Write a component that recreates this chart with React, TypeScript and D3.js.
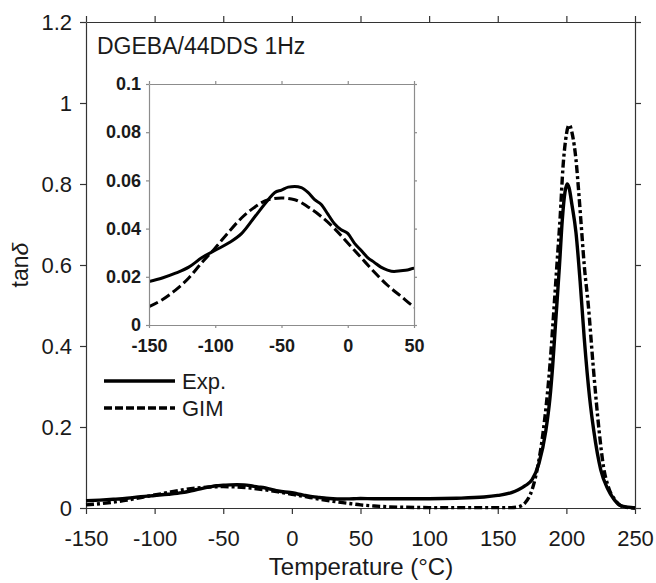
import React, { useRef, useEffect } from 'react';
import * as d3 from 'd3';

// tick values
const mainXTicks = [-150, -100, -50, 0, 50, 100, 150, 200, 250];
const mainYTicks = [0, 0.2, 0.4, 0.6, 0.8, 1, 1.2];
const insetXTicks = [-150, -100, -50, 0, 50];
const insetYTicks = [0, 0.02, 0.04, 0.06, 0.08, 0.1];

// experimental tan delta
const expTemp = [-150, -140, -130, -120, -110, -100, -90, -80, -70, -60, -55, -50, -45, -40, -35, -30, -25, -20, -15, -10, -5, 0, 5, 10, 15, 20, 25, 30, 35, 40, 45, 50, 60, 80, 100, 120, 140, 150, 160, 165, 170, 175, 180, 185, 188, 190, 192, 195, 197, 199, 200.5, 202, 204, 207, 210, 213, 217, 220, 225, 230, 235, 240, 245, 250];
const expTand = [0.018, 0.0195, 0.0215, 0.024, 0.028, 0.031, 0.034, 0.038, 0.045, 0.052, 0.055, 0.056, 0.0572, 0.0575, 0.057, 0.055, 0.052, 0.05, 0.046, 0.042, 0.0395, 0.038, 0.034, 0.031, 0.028, 0.026, 0.024, 0.0228, 0.0222, 0.0225, 0.0228, 0.0235, 0.023, 0.023, 0.023, 0.024, 0.027, 0.031, 0.038, 0.045, 0.055, 0.07, 0.11, 0.19, 0.27, 0.35, 0.45, 0.6, 0.71, 0.78, 0.8, 0.79, 0.75, 0.68, 0.56, 0.42, 0.27, 0.19, 0.095, 0.048, 0.02, 0.005, 0.002, 0];

// GIM model tan delta
const gimTemp = [-150, -140, -130, -120, -110, -100, -90, -80, -70, -60, -50, -40, -30, -20, -10, 0, 10, 20, 30, 40, 50, 60, 70, 80, 100, 120, 150, 160, 165, 170, 175, 179, 183, 188, 191.5, 193.5, 195.5, 197.5, 199.5, 202, 204.5, 207, 209, 211, 213, 216, 219.5, 224, 227, 230.5, 235.5, 240, 245, 250];
const gimTand = [0.0076, 0.0105, 0.0145, 0.0195, 0.026, 0.032, 0.0385, 0.0445, 0.049, 0.052, 0.0527, 0.052, 0.049, 0.045, 0.04, 0.034, 0.028, 0.022, 0.0165, 0.012, 0.0076, 0.005, 0.003, 0.002, 0.001, 0.001, 0.001, 0.001, 0.003, 0.013, 0.045, 0.1, 0.186, 0.352, 0.52, 0.62, 0.72, 0.84, 0.91, 0.946, 0.92, 0.86, 0.78, 0.69, 0.6, 0.5, 0.352, 0.186, 0.103, 0.053, 0.02, 0.005, 0.001, 0];

const FONT = 'Arial, "Liberation Sans", sans-serif';

export default function App() {
  const svgRef = useRef<SVGSVGElement>(null);

  useEffect(() => {
    const svg = d3.select(svgRef.current);
    svg.selectAll('*').remove();

    const x = d3.scaleLinear().domain([-150, 250]).range([86, 635]);
    const y = d3.scaleLinear().domain([0, 1.2]).range([508, 22]);
    const ix = d3.scaleLinear().domain([-150, 50]).range([149, 414]);
    const iy = d3.scaleLinear().domain([0, 0.1]).range([325, 84]);

    const exp = expTemp.map((t, i) => [t, expTand[i]] as [number, number]);
    const gim = gimTemp.map((t, i) => [t, gimTand[i]] as [number, number]);

    const fmt = (d: any) => String(+(+d).toFixed(3));

    /* style an axis group */
    const styleAxis = (g: any, color: string, size: number, bold: boolean) => {
      g.attr('font-family', FONT).attr('font-size', size).attr('font-weight', bold ? 'bold' : 'normal');
      g.select('.domain').attr('stroke', color).attr('stroke-width', 1.2);
      g.selectAll('.tick line').attr('stroke', color).attr('stroke-width', 1.2);
      g.selectAll('.tick text').attr('fill', '#1a1a1a');
    };

    // main frame + axes
    const main = svg.append('g');
    main.append('g').attr('transform', 'translate(0,508)')
      .call(d3.axisBottom(x).tickValues(mainXTicks).tickFormat(fmt).tickSize(6).tickSizeOuter(0).tickPadding(16))
      .call(styleAxis, '#333', 22, false);
    main.append('g').attr('transform', 'translate(0,22)')
      .call(d3.axisTop(x).tickValues(mainXTicks).tickFormat(() => '').tickSize(6).tickSizeOuter(0))
      .call(styleAxis, '#333', 22, false);
    main.append('g').attr('transform', 'translate(86,0)')
      .call(d3.axisLeft(y).tickValues(mainYTicks).tickFormat(fmt).tickSize(6).tickSizeOuter(0).tickPadding(8))
      .call(styleAxis, '#333', 22, false);
    main.append('g').attr('transform', 'translate(635,0)')
      .call(d3.axisRight(y).tickValues(mainYTicks).tickFormat(() => '').tickSize(6).tickSizeOuter(0))
      .call(styleAxis, '#333', 22, false);

    const line = d3.line<[number, number]>().x(d => x(d[0])).y(d => y(d[1])).curve(d3.curveMonotoneX);

    main.append('path').datum(gim).attr('d', line).attr('fill', 'none')
      .attr('stroke', '#000').attr('stroke-width', 3.4).attr('stroke-dasharray', '8,3,3,3');
    main.append('path').datum(exp).attr('d', line).attr('fill', 'none')
      .attr('stroke', '#000').attr('stroke-width', 3.4);

    // titles
    svg.append('text').attr('x', 97).attr('y', 54).attr('font-family', FONT).attr('font-size', 23)
      .attr('fill', '#1a1a1a').text('DGEBA/44DDS 1Hz');
    svg.append('text').attr('x', 361).attr('y', 575).attr('text-anchor', 'middle').attr('font-family', FONT)
      .attr('font-size', 24).attr('fill', '#1a1a1a').text('Temperature (°C)');
    const yl = svg.append('text').attr('transform', 'translate(28,265) rotate(-90)').attr('text-anchor', 'middle')
      .attr('font-family', FONT).attr('font-size', 23).attr('fill', '#1a1a1a');
    yl.append('tspan').text('tan');
    yl.append('tspan').attr('font-style', 'italic').text('δ');

    // legend
    const leg = svg.append('g');
    leg.append('line').attr('x1', 104).attr('x2', 175).attr('y1', 381).attr('y2', 381)
      .attr('stroke', '#000').attr('stroke-width', 3.6);
    leg.append('line').attr('x1', 104).attr('x2', 175).attr('y1', 408).attr('y2', 408)
      .attr('stroke', '#000').attr('stroke-width', 3.6).attr('stroke-dasharray', '8,3');
    leg.append('text').attr('x', 182).attr('y', 381).attr('dy', '0.35em').attr('font-family', FONT)
      .attr('font-size', 22).attr('fill', '#1a1a1a').text('Exp.');
    leg.append('text').attr('x', 182).attr('y', 408).attr('dy', '0.35em').attr('font-family', FONT)
      .attr('font-size', 22).attr('fill', '#1a1a1a').text('GIM');

    // inset
    const inset = svg.append('g');
    inset.append('rect').attr('x', 149).attr('y', 84).attr('width', 265).attr('height', 241).attr('fill', '#fff');
    svg.append('clipPath').attr('id', 'insetClip').append('rect')
      .attr('x', 149).attr('y', 84).attr('width', 265).attr('height', 241);

    const iline = d3.line<[number, number]>().x(d => ix(d[0])).y(d => iy(d[1])).curve(d3.curveMonotoneX);
    const inRange = (d: [number, number]) => d[0] <= 60;
    const clipped = inset.append('g').attr('clip-path', 'url(#insetClip)');
    clipped.append('path').datum(gim.filter(inRange)).attr('d', iline).attr('fill', 'none')
      .attr('stroke', '#000').attr('stroke-width', 3).attr('stroke-dasharray', '10,4');
    clipped.append('path').datum(exp.filter(inRange)).attr('d', iline).attr('fill', 'none')
      .attr('stroke', '#000').attr('stroke-width', 3);

    const gray = '#8c8c8c';
    inset.append('g').attr('transform', 'translate(0,325)')
      .call(d3.axisBottom(ix).tickValues(insetXTicks).tickFormat(fmt).tickSize(3).tickSizeOuter(0).tickPadding(11))
      .call(styleAxis, gray, 18, true);
    inset.append('g').attr('transform', 'translate(0,84)')
      .call(d3.axisTop(ix).tickValues(insetXTicks).tickFormat(() => '').tickSize(3).tickSizeOuter(0))
      .call(styleAxis, gray, 18, true);
    inset.append('g').attr('transform', 'translate(149,0)')
      .call(d3.axisLeft(iy).tickValues(insetYTicks).tickFormat(fmt).tickSize(3).tickSizeOuter(0).tickPadding(5))
      .call(styleAxis, gray, 18, true);
    inset.append('g').attr('transform', 'translate(414,0)')
      .call(d3.axisRight(iy).tickValues(insetYTicks).tickFormat(() => '').tickSize(3).tickSizeOuter(0))
      .call(styleAxis, gray, 18, true);
  }, []);

  return (
    <svg ref={svgRef} width={656} height={583}
      style={{ position: 'absolute', left: 0, top: 0, background: '#fff', display: 'block' }} />
  );
}
